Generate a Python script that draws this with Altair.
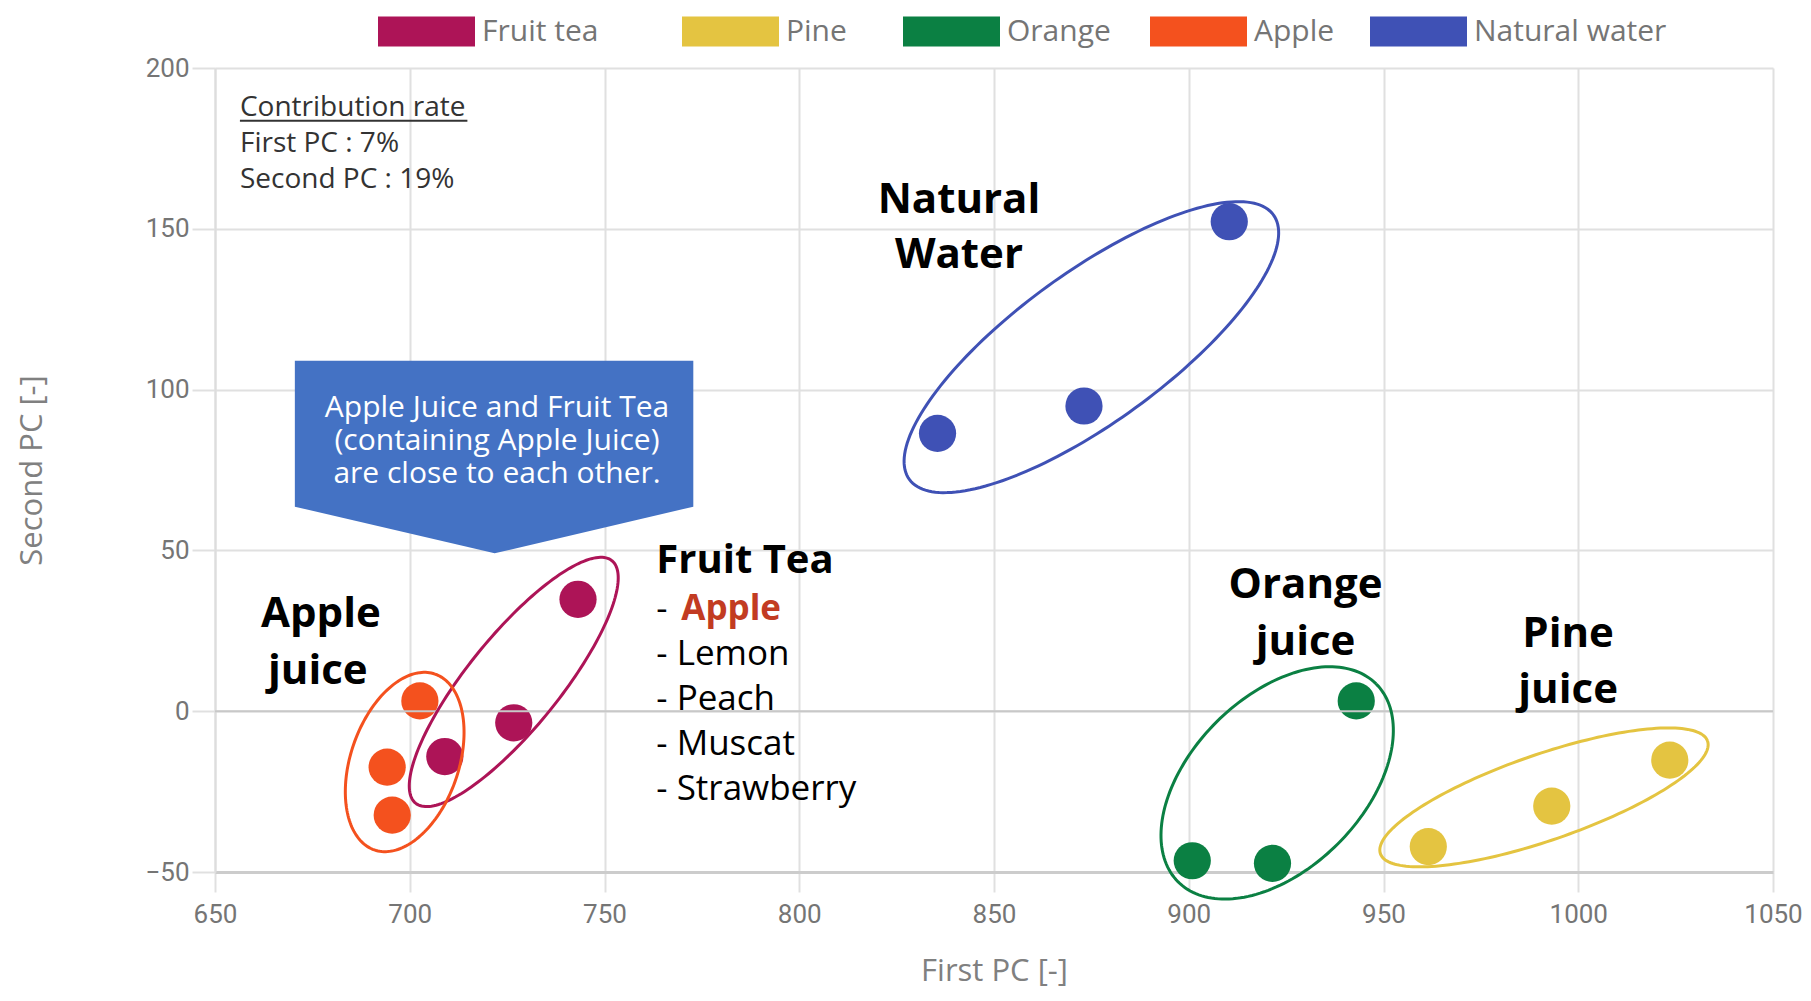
import numpy as np
import pandas as pd
import altair as alt

# ---------------- data ----------------
series = ["Fruit tea", "Pine", "Orange", "Apple", "Natural water"]
colors = ["#AD1457", "#E4C441", "#0B8043", "#F4511E", "#3F51B5"]

fruit_tea_x = [743.2, 726.7, 709.0]
fruit_tea_y = [34.8, -3.6, -14.1]
pine_x = [961.5, 993.2, 1023.5]
pine_y = [-42.1, -29.5, -15.2]
orange_x = [943.0, 900.9, 921.5]
orange_y = [3.2, -46.5, -47.3]
apple_x = [702.6, 694.2, 695.5]
apple_y = [3.2, -17.4, -32.3]
water_x = [910.4, 873.1, 835.5]
water_y = [152.2, 94.9, 86.4]

x_ticks = [650, 700, 750, 800, 850, 900, 950, 1000, 1050]
y_ticks = [-50, 0, 50, 100, 150, 200]

# ---------------- layout ----------------
W, H = 1558, 804
PXX = W / 400.0   # px per x unit
PXY = H / 250.0   # px per y unit
FONT = "Open Sans"
legend_x = [163, 467, 688, 935, 1155]   # left edge of each legend entry, px from plot left

rows = []
for name, xs_, ys_ in [("Fruit tea", fruit_tea_x, fruit_tea_y), ("Pine", pine_x, pine_y),
                       ("Orange", orange_x, orange_y), ("Apple", apple_x, apple_y),
                       ("Natural water", water_x, water_y)]:
    for xv, yv in zip(xs_, ys_):
        rows.append({"series": name, "x": xv, "y": yv})
points = pd.DataFrame(rows)

# cluster ellipses: centre (data units), semi-axes (px), rotation (deg)
ellipse_specs = {
    "Fruit tea": (726.7, 9.1, 156, 46, 51),
    "Apple": (698.7, -15.8, 93, 54, 71),
    "Natural water": (875.0, 113.2, 225, 75, 36),
    "Orange": (922.7, -22.3, 140, 86, 45),
    "Pine": (991.2, -26.8, 173, 43, 19),
}
erows = []
t = np.linspace(0, 2 * np.pi, 181)
for name, (cx, cy, a, b, ang) in ellipse_specs.items():
    th = np.deg2rad(ang)
    dx = a * np.cos(t) * np.cos(th) - b * np.sin(t) * np.sin(th)
    dy = a * np.cos(t) * np.sin(th) + b * np.sin(t) * np.cos(th)
    for i in range(len(t)):
        erows.append({"series": name, "i": i, "x": cx + dx[i] / PXX, "y": cy + dy[i] / PXY})
ellipses = pd.DataFrame(erows)

xs = alt.Scale(domain=[650, 1050], nice=False, zero=False)
ys = alt.Scale(domain=[-50, 200], nice=False, zero=False)

x_axis = alt.Axis(values=x_ticks, format="d", title="First PC [-]", grid=True, gridColor="#e0e0e0", gridWidth=2,
                  domainColor="#cccccc", domainWidth=3, tickColor="#e0e0e0", tickWidth=2, tickSize=20,
                  labelFont="Roboto", labelFontSize=26, labelColor="#757575", labelPadding=9,
                  labelFlush=False, labelOverlap=False,
                  titleFont=FONT, titleFontSize=31, titleColor="#808080", titleFontWeight="normal",
                  titleY=99, titleBaseline="middle")
y_axis = alt.Axis(values=y_ticks, format="d", title="Second PC [-]", grid=True, gridColor="#e0e0e0", gridWidth=2,
                  domainColor="#dddddd", domainWidth=2, tickColor="#e0e0e0", tickWidth=2, tickSize=23,
                  labelFont="Roboto", labelFontSize=26, labelColor="#757575", labelPadding=3,
                  labelFlush=False, labelOverlap=False,
                  titleFont=FONT, titleFontSize=31, titleColor="#808080", titleFontWeight="normal",
                  titleX=-183, titleBaseline="middle")

color_scale = alt.Scale(domain=series, range=colors)

# one point layer per series, each with its own single-entry legend placed like the reference
point_layers = []
for k, name in enumerate(series):
    leg = alt.Legend(orient="none", direction="horizontal", legendX=legend_x[k], legendY=-85,
                     symbolType="M-1,-0.31L1,-0.31L1,0.31L-1,0.31Z", symbolSize=9409,
                     symbolStrokeWidth=0, symbolOpacity=1, labelFont=FONT, labelFontSize=30,
                     labelColor="#757575", labelLimit=400, labelOffset=7)
    enc = dict(
        x=alt.X("x:Q", scale=xs, axis=x_axis),
        y=alt.Y("y:Q", scale=ys, axis=y_axis),
        color=alt.Color("series:N", scale=alt.Scale(domain=[name], range=[colors[k]]),
                        legend=leg, title=None),
    )
    point_layers.append(
        alt.Chart(points).transform_filter(alt.datum.series == name)
        .mark_circle(size=1385, opacity=1).encode(**enc)
    )

zero_rule = alt.Chart(pd.DataFrame({"y": [0]})).mark_rule(color="#c8c8c8", strokeWidth=2).encode(
    y=alt.Y("y:Q", scale=ys))

ell = alt.Chart(ellipses).mark_line(strokeWidth=3).encode(
    x=alt.X("x:Q", scale=xs),
    y=alt.Y("y:Q", scale=ys),
    order="i:Q",
    color=alt.Color("series:N", scale=color_scale, legend=None),
)

# callout arrow box
callout = pd.DataFrame({"x": [670.5, 721.8, 772.8], "y": [63.6, 49.1, 63.6], "y2": [109.0, 109.0, 109.0]})
callout_layer = alt.Chart(callout).mark_area(color="#4472C4", opacity=1).encode(
    x=alt.X("x:Q", scale=xs), y=alt.Y("y:Q", scale=ys), y2="y2:Q")

callout_text = pd.DataFrame({
    "x": [722.4, 722.4, 722.4],
    "y": [91.6, 81.2, 70.9],
    "t": ["Apple Juice and Fruit Tea", "(containing Apple Juice)", "are close to each other."],
})
callout_text_layer = alt.Chart(callout_text).mark_text(
    font=FONT, fontSize=30, color="white", align="center", baseline="alphabetic").encode(
    x=alt.X("x:Q", scale=xs), y=alt.Y("y:Q", scale=ys), text="t:N")

contrib = pd.DataFrame({
    "x": [656.4, 656.4, 656.4],
    "y": [185.2, 173.9, 162.7],
    "t": ["Contribution rate", "First PC : 7%", "Second PC : 19%"],
})
contrib_layer = alt.Chart(contrib).mark_text(
    font=FONT, fontSize=28, color="#333333", align="left", baseline="alphabetic").encode(
    x=alt.X("x:Q", scale=xs), y=alt.Y("y:Q", scale=ys), text="t:N")
underline = alt.Chart(pd.DataFrame({"x": [656.4], "x2": [714.8], "y": [183.6]})).mark_rule(
    color="#333333", strokeWidth=2).encode(x=alt.X("x:Q", scale=xs), x2="x2:Q", y=alt.Y("y:Q", scale=ys))

cluster = pd.DataFrame({
    "x": [841.0, 841.0, 677.2, 676.4, 930.0, 930.0, 997.4, 997.4],
    "y": [154.8, 137.7, 26.2, 8.5, 35.2, 17.5, 20.0, 2.6],
    "t": ["Natural", "Water", "Apple", "juice", "Orange", "juice", "Pine", "juice"],
})
cluster_layer = alt.Chart(cluster).mark_text(
    font=FONT, fontSize=42, fontWeight="bold", color="black", align="center", baseline="alphabetic").encode(
    x=alt.X("x:Q", scale=xs), y=alt.Y("y:Q", scale=ys), text="t:N")

tea_title = alt.Chart(pd.DataFrame({"x": [763.3], "y": [43.0], "t": ["Fruit Tea"]})).mark_text(
    font=FONT, fontSize=40, fontWeight="bold", color="black", align="left", baseline="alphabetic").encode(
    x=alt.X("x:Q", scale=xs), y=alt.Y("y:Q", scale=ys), text="t:N")

tea_list = pd.DataFrame({
    "x": [763.3, 763.3, 763.3, 763.3, 763.3],
    "y": [28.4, 14.4, 0.4, -13.6, -27.6],
    "t": ["-", "- Lemon", "- Peach", "- Muscat", "- Strawberry"],
})
tea_list_layer = alt.Chart(tea_list).mark_text(
    font=FONT, fontSize=35, color="black", align="left", baseline="alphabetic").encode(
    x=alt.X("x:Q", scale=xs), y=alt.Y("y:Q", scale=ys), text="t:N")
tea_apple = alt.Chart(pd.DataFrame({"x": [769.7], "y": [28.4], "t": ["Apple"]})).mark_text(
    font=FONT, fontSize=35, fontWeight="bold", color="#C23B22", align="left", baseline="alphabetic").encode(
    x=alt.X("x:Q", scale=xs), y=alt.Y("y:Q", scale=ys), text="t:N")

chart = alt.layer(
    *point_layers, zero_rule, callout_layer, ell, callout_text_layer, contrib_layer, underline,
    cluster_layer, tea_title, tea_list_layer, tea_apple,
).resolve_scale(color="independent").properties(
    width=W, height=H,
    autosize=alt.AutoSizeParams(type="none"),
    padding={"left": 207, "top": 60, "right": 30, "bottom": 117},
    background="white",
).configure_view(stroke=None)

chart.save("out.html", embed_options={"renderer": "svg", "actions": False})
